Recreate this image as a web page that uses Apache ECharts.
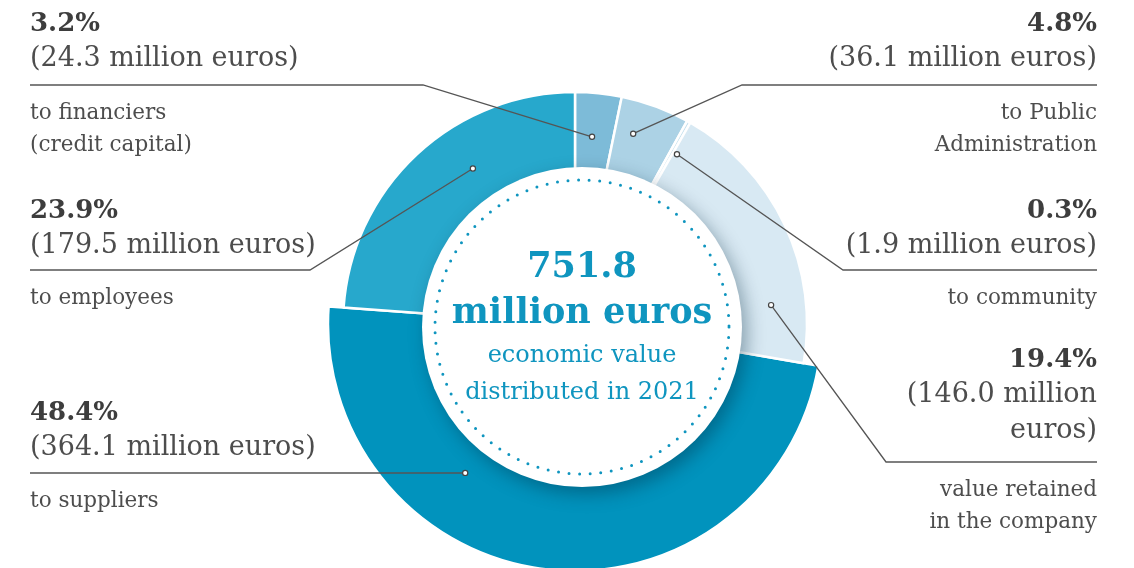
<!DOCTYPE html>
<html>
<head>
<meta charset="utf-8">
<script src="https://cdn.jsdelivr.net/npm/echarts@6/dist/echarts.min.js"></script>
<style>
  html, body { margin: 0; padding: 0; background: #fff; }
  #chart { width: 1134px; height: 568px; }
</style>
</head>
<body>
<div id="chart"></div>
<script>
  // data, in drawing order (clockwise from 12 o'clock)
  const categories = ['to financiers\n(credit capital)', 'to Public\nAdministration', 'to community',
    'value retained\nin the company', 'to suppliers', 'to employees'];
  const values = [24.3, 36.1, 1.9, 146.0, 364.1, 179.5];
  const shares = [3.2, 4.8, 0.3, 19.4, 48.4, 23.9];
  const total = 751.8;
  const year = 2021;

  const palette = ['#7dbbd8', '#acd2e5', '#c6e1ee', '#d8e9f3', '#0193bd', '#27a8cc'];
  const bigIndex = 4; // suppliers slice drawn with a bigger radius

  const cx = 575, cy = 324;
  const font = '"DejaVu Serif", serif';
  const textColor = '#4d4d4d';
  const blue = '#0f95bf';

  // label blocks: side, y of percent line, y of rule, anchor on ring [deg from top, radius], elbow x
  const labelLayout = [
    { side: 'left',  top: 24,  rule: 85,  anchor: [5.2, 188],   elbow: 423 },
    { side: 'right', top: 24,  rule: 85,  anchor: [17, 199],    elbow: 742 },
    { side: 'right', top: 211, rule: 270, anchor: [31, 198],    elbow: 843 },
    { side: 'right', top: 360, rule: 462, anchor: [84.5, 197],  elbow: 886 },
    { side: 'left',  top: 413, rule: 473, anchor: [216.4, 185], elbow: 465 },
    { side: 'left',  top: 211, rule: 270, anchor: [326.7, 186], elbow: 310 }
  ];

  function pieData(showBig) {
    return values.map((v, i) => {
      const visible = (i === bigIndex) === showBig;
      return {
        name: categories[i],
        value: v,
        itemStyle: visible
          ? { color: palette[i], borderColor: '#fff', borderWidth: 2.5 }
          : { color: 'transparent', borderWidth: 0 }
      };
    });
  }

  const graphics = [];

  // white centre disk with shadow
  graphics.push({
    type: 'circle', z: 10,
    shape: { cx: 582, cy: 327, r: 160 },
    style: { fill: '#fff', shadowBlur: 18, shadowColor: 'rgba(0,40,60,0.38)', shadowOffsetX: 5, shadowOffsetY: 7 }
  });
  graphics.push({
    type: 'circle', z: 11,
    shape: { cx: 582, cy: 327, r: 147 },
    style: { fill: 'none', stroke: blue, lineWidth: 3, lineCap: 'round', lineDash: [0, 10.6] }
  });

  // centre text
  const centre = [
    { t: String(total), y: 268, size: 35, w: 'bold' },
    { t: 'million euros', y: 314, size: 35, w: 'bold' },
    { t: 'economic value', y: 356, size: 24, w: 'normal' },
    { t: 'distributed in ' + year, y: 393, size: 24, w: 'normal' }
  ];
  centre.forEach(c => graphics.push({
    type: 'text', z: 12, x: 582, y: c.y,
    style: { text: c.t, fill: blue, font: c.w + ' ' + c.size + 'px ' + font, align: 'center', verticalAlign: 'middle' }
  }));

  // side labels and leader lines
  labelLayout.forEach((L, i) => {
    const left = L.side === 'left';
    const x = left ? 30 : 1097;
    const align = left ? 'left' : 'right';
    let amount = '(' + values[i].toFixed(1) + ' million euros)';
    if (i === 3) amount = '(' + values[i].toFixed(1) + ' million\neuros)';
    graphics.push({
      type: 'text', z: 20, x: x, y: L.top,
      style: { text: shares[i].toFixed(1) + '%', fill: '#3d3d3d', font: 'bold 26px ' + font, align: align, verticalAlign: 'middle' }
    });
    graphics.push({
      type: 'text', z: 20, x: x, y: L.top + 17,
      style: { text: amount, fill: textColor, font: '300 27px ' + font, align: align, verticalAlign: 'top', lineHeight: 36 }
    });
    graphics.push({
      type: 'text', z: 20, x: x, y: L.rule + 12,
      style: { text: categories[i], fill: textColor, font: '21.5px ' + font, align: align, verticalAlign: 'top', lineHeight: 32 }
    });
    const a = L.anchor[0] * Math.PI / 180;
    const px = cx + L.anchor[1] * Math.sin(a);
    const py = cy - L.anchor[1] * Math.cos(a);
    graphics.push({
      type: 'polyline', z: 20,
      shape: { points: [[x, L.rule], [L.elbow, L.rule], [px, py]] },
      style: { stroke: '#555', lineWidth: 1.3, fill: 'none' }
    });
    graphics.push({
      type: 'circle', z: 21,
      shape: { cx: px, cy: py, r: 2.6 },
      style: { fill: '#fff', stroke: '#444', lineWidth: 1.2 }
    });
  });

  const chart = echarts.init(document.getElementById('chart'));
  chart.setOption({
    animation: false,
    backgroundColor: '#fff',
    series: [
      {
        type: 'pie', silent: true, startAngle: 90, clockwise: true,
        center: [cx, cy], radius: [150, 247],
        label: { show: false }, labelLine: { show: false },
        emphasis: { disabled: true },
        data: pieData(true)
      },
      {
        type: 'pie', silent: true, startAngle: 90, clockwise: true,
        center: [cx, cy], radius: [150, 232],
        label: { show: false }, labelLine: { show: false },
        emphasis: { disabled: true },
        data: pieData(false)
      }
    ],
    graphic: graphics
  });
</script>
</body>
</html>
